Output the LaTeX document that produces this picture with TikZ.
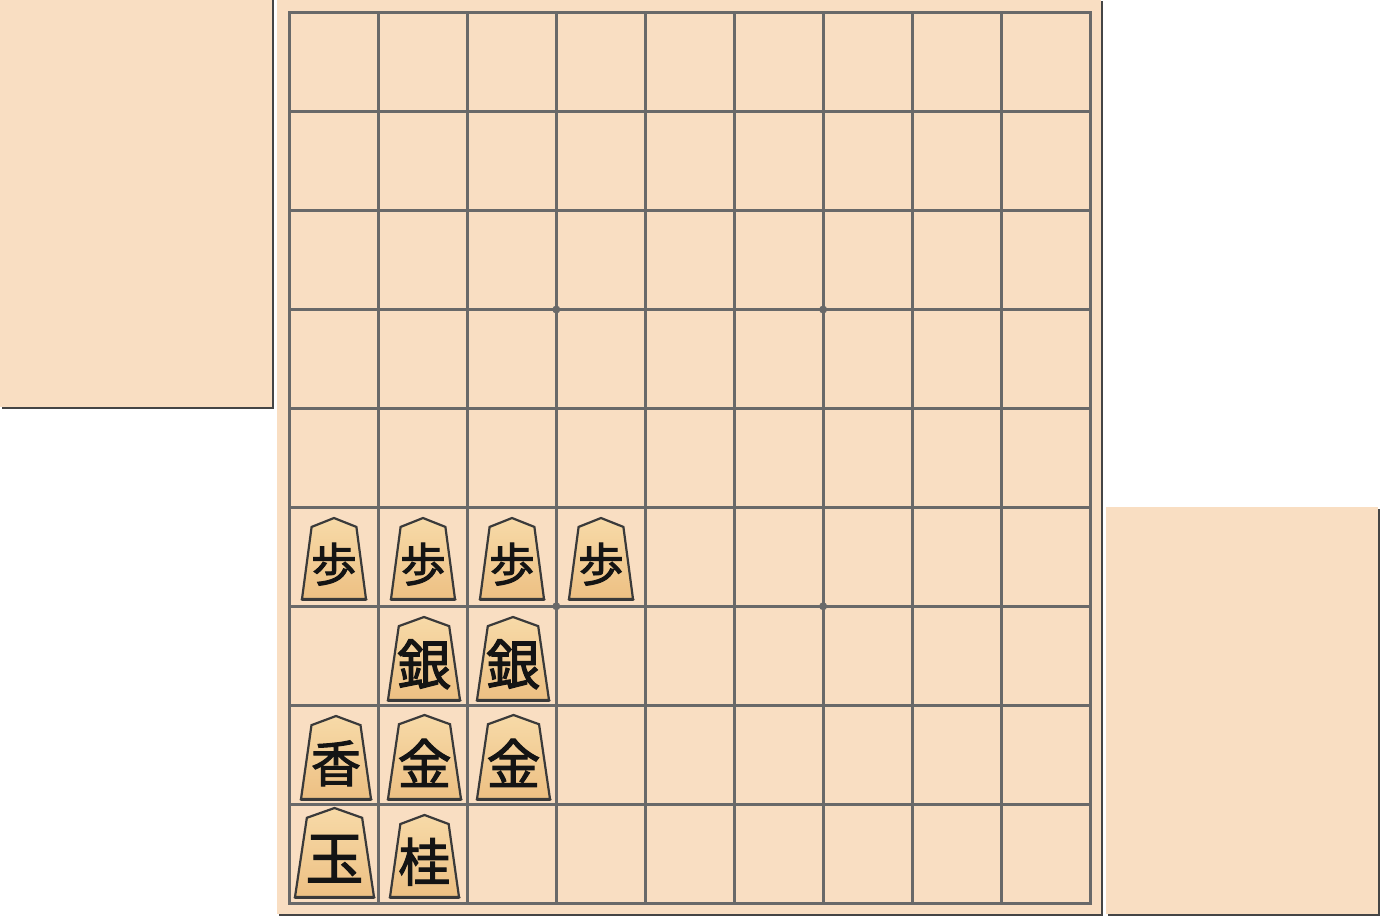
\documentclass[tikz,border=0pt]{standalone}
\usepackage{fontspec}
\newfontfamily\cjk{Noto Sans CJK JP}[FakeBold=2]
\definecolor{boardbg}{HTML}{F9DEC2}
\definecolor{gridc}{HTML}{696969}
\definecolor{shadowc}{HTML}{454545}
\definecolor{woodtop}{HTML}{F7DAA8}
\definecolor{woodbot}{HTML}{EDC083}
\definecolor{piecedge}{HTML}{3A3A3A}
\tikzset{
  gridline/.style={gridc, line width=3pt},
  komabody/.style={draw=piecedge, line width=2.2pt, line join=miter, top color=woodtop, bottom color=woodbot},
  komabase/.style={draw=piecedge, line width=3pt, line cap=round},
  kanji/.style={inner sep=0pt, text=black!92},
  starpt/.style={fill=gridc},
}
\newcommand\koma[7]{% name, cx, top, bottom, width, fontsize, char
  \draw[komabody] ({#2-#5/2},#4) -- ({#2-0.35*#5},{#3+0.11*(#4-#3)}) -- (#2,#3) -- ({#2+0.35*#5},{#3+0.11*(#4-#3)}) -- ({#2+#5/2},#4) -- cycle;
  \draw[komabase] ({#2-#5/2},#4) -- ({#2+#5/2},#4);
  \node[kanji, font=\cjk\fontsize{#6}{#6}\selectfont] (#1) at (#2,{#3+0.57*(#4-#3)}) {#7};
}
\begin{document}
\begin{tikzpicture}[x=1pt,y=-1pt]
\useasboundingbox (0,0) rectangle (1380,916);
% left stand
\fill[shadowc] (2,0) rectangle (274,408.5);
\fill[boardbg] (0,0) rectangle (271.7,406.7);
% board
\fill[shadowc] (279,1) rectangle (1103.3,916);
\fill[boardbg] (277,0) rectangle (1101,913.5);
% right stand
\fill[shadowc] (1108,509) rectangle (1380,916);
\fill[boardbg] (1106,507) rectangle (1378,914);
% grid
\def\gx{88.94}\def\gy{98.91}
\foreach \i in {1,...,8} {
  \draw[gridline] ({289.5+\i*\gx},12.8) -- ({289.5+\i*\gx},903);
  \draw[gridline] (289.5,{12.8+\i*\gy}) -- (1090,{12.8+\i*\gy});
}
\draw[gridline] (289.5,12.8) rectangle (1090,903);
\foreach \i/\j in {3/3,6/3,3/6,6/6}
  \fill[starpt] ({289.5+\i*\gx},{12.8+\j*\gy}) circle (4);
% pieces
\koma{fu1}{334}{518}{599}{64}{46}{歩}
\koma{fu2}{423}{518}{599}{64}{46}{歩}
\koma{fu3}{512}{518}{599}{64}{46}{歩}
\koma{fu4}{601}{518}{599}{64}{46}{歩}
\koma{gin1}{424}{617}{700}{72}{54}{銀}
\koma{gin2}{513}{617}{700}{72}{54}{銀}
\koma{kyo}{336}{716}{799}{70}{50}{香}
\koma{kin1}{424.5}{715}{799}{73}{54}{金}
\koma{kin2}{513.5}{715}{799}{73}{54}{金}
\koma{ou}{334.5}{808}{897}{79}{58}{玉}
\koma{kei}{424.5}{815}{897}{69}{52}{桂}
\end{tikzpicture}
\end{document}
